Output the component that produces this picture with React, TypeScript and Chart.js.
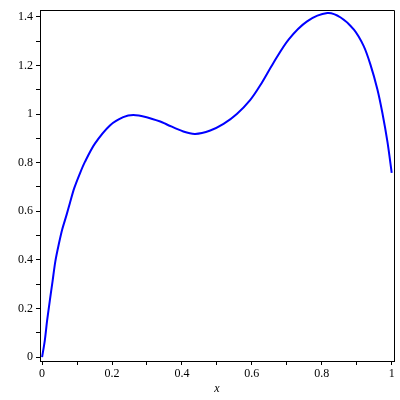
import React, { useEffect, useRef } from "react";
import { Chart, registerables } from "chart.js";

Chart.register(...registerables);

const xValues = [0, 0.0077, 0.0143, 0.022, 0.03, 0.038, 0.048, 0.0573, 0.07, 0.0794, 0.0917, 0.108, 0.1225, 0.151, 0.194, 0.232, 0.261, 0.299, 0.338, 0.357, 0.404, 0.438, 0.481, 0.519, 0.557, 0.595, 0.624, 0.662, 0.705, 0.758, 0.816, 0.854, 0.892, 0.92, 0.939, 0.959, 0.973, 0.988, 1.0];
const yValues = [0, 0.068, 0.15, 0.231, 0.313, 0.395, 0.466, 0.524, 0.585, 0.633, 0.694, 0.755, 0.803, 0.878, 0.953, 0.987, 0.996, 0.987, 0.969, 0.957, 0.928, 0.918, 0.932, 0.959, 1.0, 1.057, 1.118, 1.211, 1.306, 1.381, 1.415, 1.397, 1.347, 1.279, 1.204, 1.102, 1.007, 0.884, 0.758];

const xTicks = [0, 0.1, 0.2, 0.3, 0.4, 0.5, 0.6, 0.7, 0.8, 0.9, 1];
const xTickLabels = ["0", "", "0.2", "", "0.4", "", "0.6", "", "0.8", "", "1"];
const yTicks = [0, 0.1, 0.2, 0.3, 0.4, 0.5, 0.6, 0.7, 0.8, 0.9, 1, 1.1, 1.2, 1.3, 1.4];
const yTickLabels = ["0", "", "0.2", "", "0.4", "", "0.6", "", "0.8", "", "1", "", "1.2", "", "1.4"];
const xTitle = "x";

const framePlugin = {
  id: "frame",
  afterDraw(chart: any) {
    const { ctx, chartArea } = chart;
    ctx.save();
    ctx.strokeStyle = "#000";
    ctx.lineWidth = 1;
    ctx.beginPath();
    ctx.moveTo(Math.round(chartArea.left) + 0.5, Math.round(chartArea.top) + 0.5);
    ctx.lineTo(Math.round(chartArea.right) + 0.5, Math.round(chartArea.top) + 0.5);
    ctx.lineTo(Math.round(chartArea.right) + 0.5, Math.round(chartArea.bottom) + 0.5);
    ctx.stroke();
    ctx.restore();
  },
};

export default function App() {
  const ref = useRef<HTMLCanvasElement | null>(null);
  useEffect(() => {
    if (!ref.current) return;
    const font = { family: "Liberation Serif", size: 12 };
    const chart = new Chart(ref.current, {
      type: "scatter",
      data: {
        datasets: [
          {
            data: xValues.map((x, i) => ({ x, y: yValues[i] })),
            showLine: true,
            borderColor: "#0000ff",
            borderWidth: 2,
            pointRadius: 0,
            tension: 0.3,
            fill: false,
            clip: false as any,
          },
        ],
      },
      options: {
        animation: false,
        responsive: false,
        events: [],
        layout: { padding: { top: 7, right: 6, left: 0, bottom: 0 } },
        plugins: { legend: { display: false }, tooltip: { enabled: false } },
        scales: {
          x: {
            type: "linear",
            min: -0.006,
            max: 1.0066,
            afterBuildTicks: (scale: any) => {
              scale.ticks = xTicks.map((v) => ({ value: v }));
            },
            afterFit: (scale: any) => {
              scale.height = 39;
            },
            ticks: {
              autoSkip: false,
              maxRotation: 0,
              color: "#000",
              font,
              padding: 2,
              callback: (_v: any, i: number) => xTickLabels[i],
            },
            grid: { display: true, drawOnChartArea: false, drawTicks: true, tickLength: 4, color: "#000" },
            border: { display: true, color: "#000" },
            title: {
              display: true,
              text: xTitle,
              color: "#000",
              font: { family: "Liberation Serif", size: 12, style: "italic" },
              padding: { top: 4, bottom: 4 },
            },
          },
          y: {
            type: "linear",
            min: -0.016,
            max: 1.427,
            afterBuildTicks: (scale: any) => {
              scale.ticks = yTicks.map((v) => ({ value: v }));
            },
            afterFit: (scale: any) => {
              scale.width = 40;
            },
            ticks: {
              autoSkip: false,
              color: "#000",
              font,
              padding: 3,
              callback: (_v: any, i: number) => yTickLabels[i],
            },
            grid: { display: true, drawOnChartArea: false, drawTicks: true, tickLength: 4, color: "#000" },
            border: { display: true, color: "#000" },
          },
        },
      } as any,
      plugins: [framePlugin],
    });
    return () => chart.destroy();
  }, []);
  return (
    <div style={{ position: "fixed", left: 0, top: 0, width: 400, height: 400, background: "#fff" }}>
      <canvas ref={ref} width={400} height={400} />
    </div>
  );
}
